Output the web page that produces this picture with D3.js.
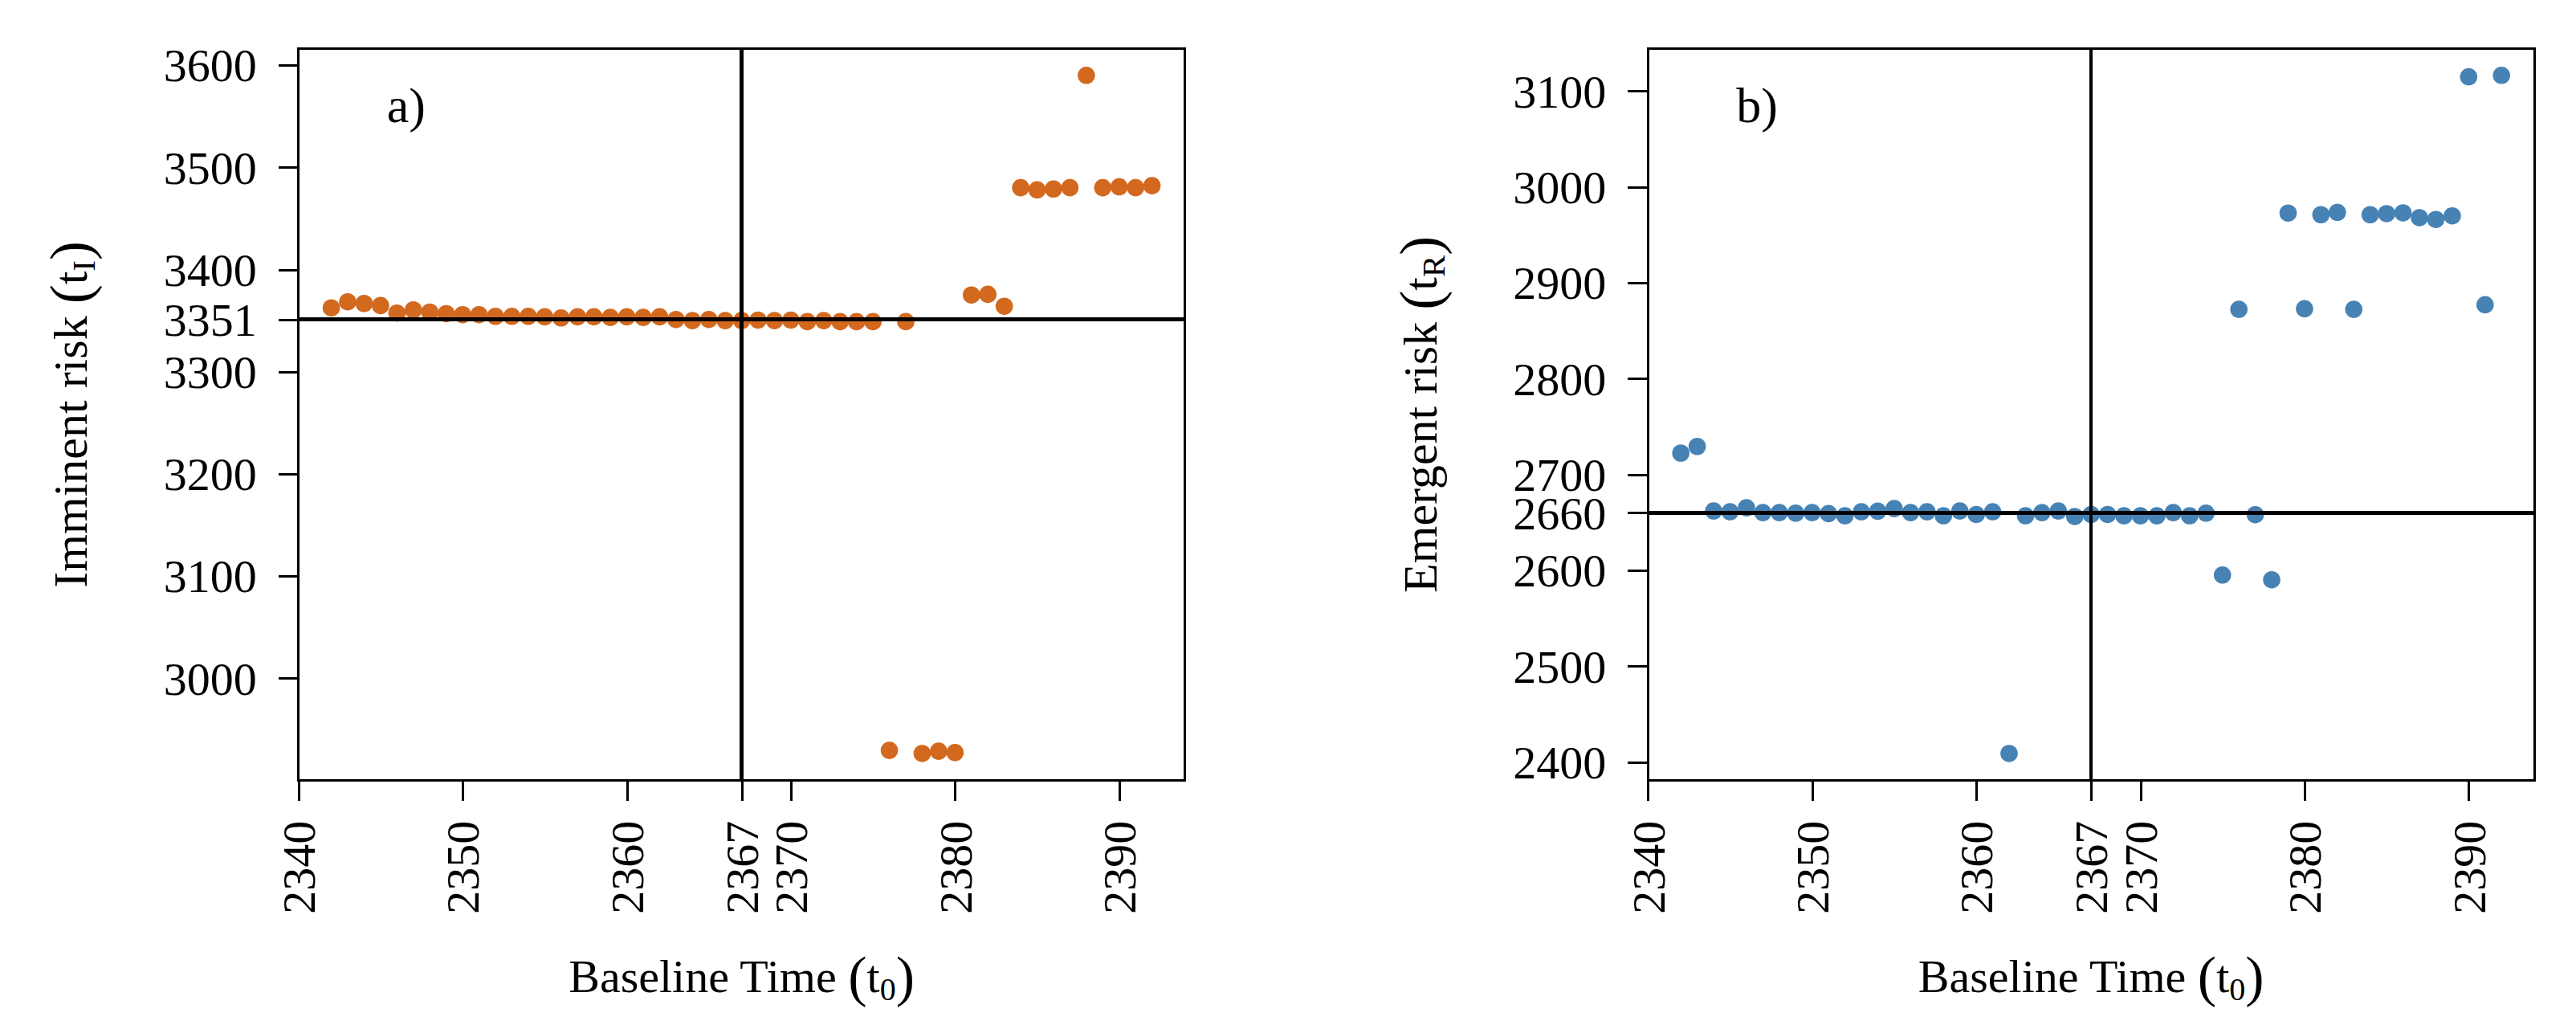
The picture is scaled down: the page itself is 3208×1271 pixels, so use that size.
<!DOCTYPE html>
<html>
<head>
<meta charset="utf-8">
<script src="https://cdn.jsdelivr.net/npm/d3@7"></script>
<style>
  html, body { margin: 0; padding: 0; background: #fff; }
  svg { display: block; }
  text { font-family: "Liberation Serif", "Times New Roman", serif; fill: #000; }
</style>
</head>
<body>
<svg id="chart" width="3208" height="1271"></svg>
<script>
// ---------------- data ----------------
const baselineTimes = [2342, 2343, 2344, 2345, 2346, 2347, 2348, 2349, 2350, 2351,
  2352, 2353, 2354, 2355, 2356, 2357, 2358, 2359, 2360, 2361,
  2362, 2363, 2364, 2365, 2366, 2367, 2368, 2369, 2370, 2371,
  2372, 2373, 2374, 2375, 2376, 2377, 2378, 2379, 2380, 2381,
  2382, 2383, 2384, 2385, 2386, 2387, 2388, 2389, 2390, 2391, 2392];

const imminentRisk = [3362.5, 3368.4, 3366.8, 3364.7, 3357.4, 3360.5, 3358.4, 3356.8, 3355.8, 3355.8,
  3354.2, 3354.2, 3354.2, 3353.7, 3352.6, 3353.7, 3353.7, 3353.1, 3353.7, 3353.1,
  3353.7, 3351.1, 3350.0, 3351.1, 3350.0, 3350.0, 3350.5, 3350.0, 3350.5, 3349.0,
  3350.0, 3349.0, 3349.0, 3349.0, 2929.5, 3349.0, 2926.5, 2928.7, 2927.4, 3375.1,
  3375.7, 3364.1, 3480.1, 3478.0, 3478.8, 3480.1, 3590.0, 3480.1, 3480.9, 3480.1, 3482.0];

const emergentRisk = [2722.4, 2729.3, 2662.0, 2661.2, 2665.3, 2660.3, 2660.3, 2659.7, 2660.3, 2659.2,
  2657.0, 2661.2, 2661.7, 2664.5, 2660.3, 2661.2, 2657.0, 2662.0, 2658.3, 2661.2,
  2409.0, 2657.0, 2660.3, 2662.0, 2656.2, 2658.3, 2658.3, 2657.0, 2657.0, 2657.0,
  2660.3, 2657.0, 2659.7, 2595.2, 2872.4, 2658.1, 2590.2, 2972.8, 2873.0, 2971.1,
  2973.6, 2872.4, 2971.1, 2972.2, 2973.0, 2968.0, 2966.1, 2969.9, 3115.0, 2877.1, 3116.5];

const xTicks = [2340, 2350, 2360, 2367, 2370, 2380, 2390];
const xRefLine = 2367;

const yTicksA = [3000, 3100, 3200, 3300, 3351, 3400, 3500, 3600];
const yRefA = 3351;
const yTicksB = [2400, 2500, 2600, 2660, 2700, 2800, 2900, 3000, 3100];
const yRefB = 2660;

// ---------------- layout ----------------
const svg = d3.select("#chart");
const W = 1103.8, TOP = 60, BOTTOM = 971.7;
const FONT = 58;
const BOX_W = 3, REF_H = 5, REF_V = 4.4, R = 10.8;

function padExtent(vals) {
  const [a, b] = d3.extent(vals);
  const p = (b - a) * 0.04;
  return [a - p, b + p];
}

function drawPanel(left, values, color, yTicks, yRef, tag, yLabelMain, yLabelSub) {
  const g = svg.append("g");
  const x = d3.scaleLinear().domain(padExtent(baselineTimes)).range([left, left + W]);
  const y = d3.scaleLinear().domain(padExtent(values)).range([BOTTOM, TOP]);

  // x axis
  const xAxis = d3.axisBottom(x).tickValues(xTicks).tickSize(25).tickFormat(d3.format("d"));
  const gx = g.append("g").attr("transform", `translate(0,${BOTTOM})`).call(xAxis);
  gx.select(".domain").remove();
  gx.selectAll(".tick line").attr("stroke", "#000").attr("stroke-width", BOX_W)
    .attr("shape-rendering", "crispEdges");
  gx.selectAll(".tick text")
    .attr("font-size", FONT)
    .attr("font-family", "Liberation Serif")
    .attr("fill", "#000")
    .attr("text-anchor", "end")
    .attr("transform", "translate(0,50) rotate(-90)")
    .attr("x", 0).attr("y", 0).attr("dy", "0.34em");

  // y axis
  const yAxis = d3.axisLeft(y).tickValues(yTicks).tickSize(25).tickFormat(d3.format("d"));
  const gy = g.append("g").attr("transform", `translate(${left},0)`).call(yAxis);
  gy.select(".domain").remove();
  gy.selectAll(".tick line").attr("stroke", "#000").attr("stroke-width", BOX_W)
    .attr("shape-rendering", "crispEdges");
  gy.selectAll(".tick text")
    .attr("font-size", FONT)
    .attr("font-family", "Liberation Serif")
    .attr("fill", "#000")
    .attr("x", -52).attr("dy", "0.34em");

  // points
  g.append("g").selectAll("circle")
    .data(baselineTimes.map((t, i) => ({ t, v: values[i] })))
    .join("circle")
    .attr("cx", d => x(d.t))
    .attr("cy", d => y(d.v))
    .attr("r", R)
    .attr("fill", color);

  // reference lines
  g.append("line")
    .attr("x1", x(xRefLine)).attr("x2", x(xRefLine))
    .attr("y1", TOP).attr("y2", BOTTOM)
    .attr("stroke", "#000").attr("stroke-width", REF_V)
    .attr("shape-rendering", "crispEdges");
  g.append("line")
    .attr("x1", left).attr("x2", left + W)
    .attr("y1", y(yRef)).attr("y2", y(yRef))
    .attr("stroke", "#000").attr("stroke-width", REF_H)
    .attr("shape-rendering", "crispEdges");

  // box
  g.append("rect")
    .attr("x", left).attr("y", TOP).attr("width", W).attr("height", BOTTOM - TOP)
    .attr("fill", "none").attr("stroke", "#000").attr("stroke-width", BOX_W)
    .attr("shape-rendering", "crispEdges");

  // panel tag
  g.append("text")
    .attr("x", left + 110).attr("y", 151.7)
    .attr("font-size", 62)
    .text(tag);

  // x title
  const xt = g.append("text")
    .attr("x", left + W / 2).attr("y", 1235)
    .attr("text-anchor", "middle")
    .attr("font-size", FONT);
  xt.append("tspan").text("Baseline Time ");
  xt.append("tspan").attr("font-size", 70).attr("dy", 4).text("(");
  xt.append("tspan").attr("dy", -4).text("t");
  xt.append("tspan").attr("font-size", 40).attr("dy", 10).text("0");
  xt.append("tspan").attr("font-size", 70).attr("dy", -6).text(")");

  // y title
  const yt = g.append("text")
    .attr("transform", `translate(${left - 263.4},${(TOP + BOTTOM) / 2}) rotate(-90)`)
    .attr("text-anchor", "middle")
    .attr("font-size", 60);
  yt.append("tspan").text(yLabelMain + " ");
  yt.append("tspan").attr("font-size", 72).attr("dy", 4).text("(");
  yt.append("tspan").attr("dy", -4).text("t");
  yt.append("tspan").attr("font-size", 41).attr("dy", 10).text(yLabelSub);
  yt.append("tspan").attr("font-size", 72).attr("dy", -6).text(")");
}

drawPanel(371.7, imminentRisk, "#D2691E", yTicksA, yRefA, "a)", "Imminent risk", "I");
drawPanel(2052.3, emergentRisk, "#4682B4", yTicksB, yRefB, "b)", "Emergent risk", "R");
</script>
</body>
</html>
